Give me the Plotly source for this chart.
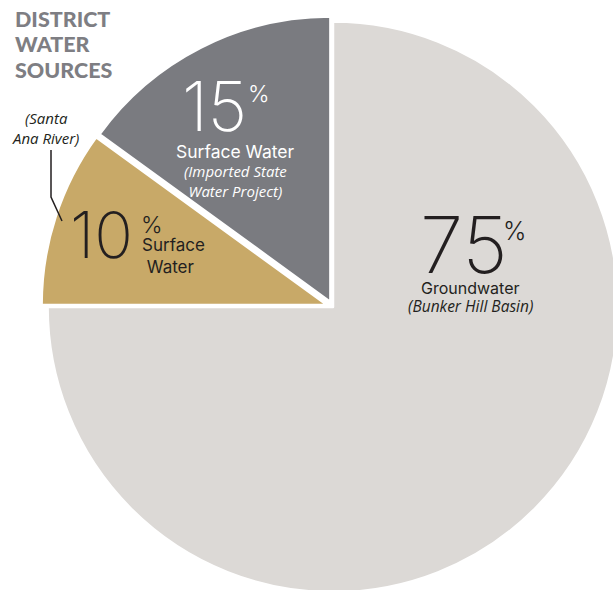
import plotly.graph_objects as go

# ---- data ----
labels = ["Groundwater", "Surface Water (Santa Ana River)", "Surface Water (Imported State Water Project)"]
values = [75, 10, 15]
colors = ["#dcd9d6", "#c8a968", "#7a7b80"]
pulls = [0, 0.022, 0.02]

title_lines = ["DISTRICT", "WATER", "SOURCES"]

W, H = 640, 610  # canvas slightly larger than window so the pie is cropped like the reference


def px(x, y):
    return x / W, 1 - y / H


fig = go.Figure(
    go.Pie(
        labels=labels,
        values=values,
        sort=False,
        direction="clockwise",
        rotation=0,
        pull=pulls,
        marker=dict(colors=colors, line=dict(color="white", width=2.5)),
        textinfo="none",
        hoverinfo="label+percent",
        showlegend=False,
        domain=dict(x=[41.3 / W, 624.7 / W], y=[1 - 598.7 / H, 1 - 15.3 / H]),
    )
)

ann = []


def add(text, x, y, size, color, xanchor="center", family="Inter", weight=None, align="center"):
    fx, fy = px(x, y)
    f = dict(size=size, color=color, family=family)
    if weight is not None:
        f["weight"] = weight
    ann.append(dict(text=text, x=fx, y=fy, xref="paper", yref="paper", showarrow=False,
                    xanchor=xanchor, yanchor="middle", align=align, font=f))


NUM = "Inter"
ITAL = "Open Sans"

# title
for i, t in enumerate(title_lines):
    add(t, 13, 19 + i * 25.5, 21.5, "#7e7e83", xanchor="left", family="Lato", weight=900)

dark = "#231f20"
# 15% slice
add(f"{values[2]}", 214, 106, 68, "white", family=NUM, weight=200)
add("%", 259, 94, 23, "white", family=NUM, weight=300)
add("Surface Water", 235, 151, 17.5, "white")
add("<i>(Imported State<br>Water Project)</i>", 235, 181, 15, "white", family=ITAL)

# 75% slice
add(f"{values[0]}", 463, 244, 78, dark, family=NUM, weight=200)
add("%", 514, 231, 25, dark, family=NUM, weight=300)
add("Groundwater", 470, 288, 16, dark)
add("<i>(Bunker Hill Basin)</i>", 470, 306, 15.5, dark, family=ITAL)

# 10% slice
add(f"{values[1]}", 101, 234, 64, dark, family=NUM, weight=200)
add("%", 152, 225, 23, dark, family=NUM, weight=300)
add("Surface<br> Water", 140, 255.5, 17, dark, xanchor="left", align="left")
add("<i>(Santa<br>Ana River)</i>", 45, 127.5, 15, dark, family=ITAL)

p = [px(51, 150), px(51, 197), px(62, 221)]
path = "M {} {} L {} {} L {} {}".format(p[0][0], p[0][1], p[1][0], p[1][1], p[2][0], p[2][1])

fig.update_layout(
    width=W,
    height=H,
    margin=dict(l=0, r=0, t=0, b=0),
    paper_bgcolor="white",
    plot_bgcolor="white",
    annotations=ann,
    shapes=[dict(type="path", path=path, xref="paper", yref="paper",
                 line=dict(color=dark, width=1.5))],
)

fig.write_html(
    "out.html",
    config={"displayModeBar": False},
    post_script="document.body.style.margin='0';document.body.style.overflow='hidden';"
                "document.documentElement.style.overflow='hidden';",
)
